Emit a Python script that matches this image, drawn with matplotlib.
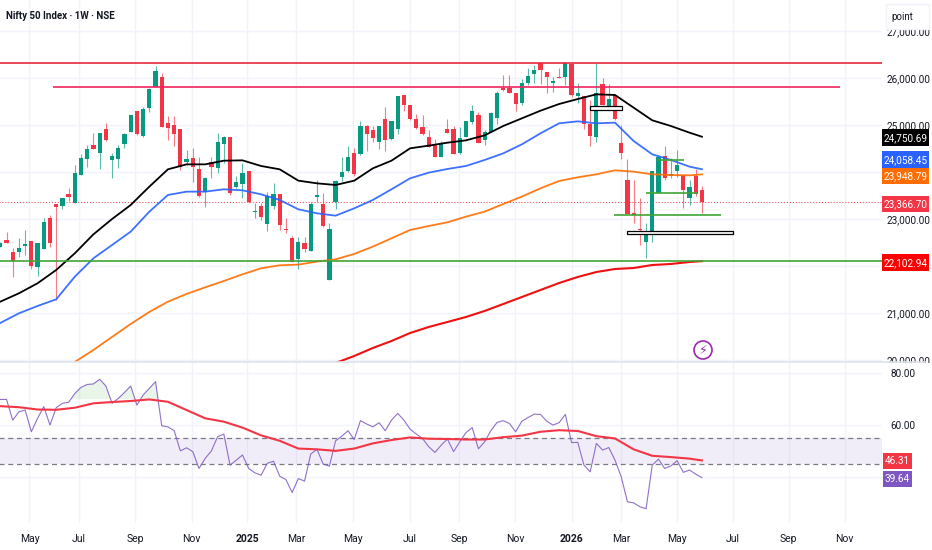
import numpy as np
import matplotlib
matplotlib.use('Agg')
import matplotlib.pyplot as plt
from matplotlib.patches import Rectangle, Circle

plt.rcParams['font.family'] = ['Roboto', 'DejaVu Sans']

# Weekly candles, one row per ten weeks
opens = [22412, 22554, 22305, 22298, 22433, 22539, 21986, 22362, 23022, 23312,
         23277, 23532, 23334, 23944, 24284, 24568, 24412, 24922, 24263, 24284,
         24589, 24858, 25298, 24773, 25369, 25816, 26029, 25050, 25000, 24922,
         24206, 24298, 24064, 23582, 24220, 24093, 24596, 24738, 23688, 23745,
         24029, 23149, 23270, 22894, 23284, 23525, 22795, 22589, 22142, 22497,
         22319, 23476, 23312, 21703, 23369, 23901, 24022, 24397, 24383, 24979,
         24894, 24639, 25121, 24695, 24908, 25639, 25426, 25128, 24951, 24752,
         24575, 24327, 24915, 24915, 24397, 24752, 25057, 25213, 24681, 24858,
         25142, 25795, 25795, 25674, 25461, 25901, 26085, 26312, 26135, 25887,
         26029, 26014, 26298, 25617, 25617, 25022, 24752, 25873, 25390, 25639,
         24624, 23830, 23121, 22788, 22504, 22731, 23546, 24348, 23908, 24029,
         23936, 23447, 23922, 23617]
highs = [22518, 22731, 22376, 22589, 22766, 22539, 22483, 23015, 23085, 23312,
         23440, 23653, 24149, 24383, 24575, 24837, 24823, 25036, 24397, 24575,
         24823, 25213, 25298, 25390, 25780, 26256, 26114, 25192, 25192, 24922,
         24468, 24504, 24312, 23901, 24327, 24823, 24766, 24738, 23915, 24185,
         24029, 23348, 23334, 23582, 23773, 23525, 23015, 22639, 22624, 22624,
         23369, 23830, 23546, 22908, 23830, 24327, 24561, 24504, 25085, 25000,
         24979, 24979, 25376, 25093, 25617, 25639, 25426, 25227, 25213, 24894,
         24695, 24667, 25121, 24979, 24951, 25093, 25419, 25270, 24894, 25284,
         25731, 26064, 26064, 25674, 25972, 26206, 26277, 26348, 26135, 26014,
         26206, 26348, 26312, 25887, 25617, 25532, 26312, 25993, 25873, 25639,
         25000, 24270, 23830, 23440, 22908, 24022, 24362, 24561, 24291, 24468,
         23936, 23830, 24064, 23703]
lows = [22398, 22483, 21759, 22185, 22234, 21929, 21795, 22362, 22412, 21277,
        23206, 23390, 23334, 23944, 24114, 24490, 24057, 24667, 23866, 24078,
        24518, 24858, 24788, 24752, 25270, 25816, 24951, 24681, 24561, 24043,
        24149, 23795, 23476, 23249, 23866, 23986, 24185, 23511, 23653, 23440,
        23348, 23015, 22979, 22752, 23206, 22766, 22695, 22093, 21937, 22305,
        22319, 23369, 22823, 21703, 23206, 23816, 24007, 23915, 24362, 24447,
        24646, 24490, 24447, 24681, 24802, 25298, 25107, 24908, 24788, 24525,
        24312, 24327, 24823, 24383, 24383, 24738, 25022, 24610, 24575, 24858,
        25022, 25731, 25674, 25305, 25426, 25851, 25887, 25866, 25674, 25710,
        26000, 25851, 25589, 25475, 24908, 24554, 24646, 25426, 25334, 25107,
        24284, 23107, 22908, 22447, 22178, 22518, 23546, 23830, 23866, 23887,
        23241, 23298, 23490, 23135]
closes = [22483, 22483, 22114, 22390, 22461, 22000, 22483, 22944, 22483, 23263,
          23440, 23468, 23972, 24298, 24483, 24490, 24823, 24674, 24341, 24511,
          24802, 25213, 24802, 25341, 25759, 26156, 24965, 24929, 24802, 24114,
          24277, 24114, 23490, 23880, 24100, 24646, 24752, 23546, 23795, 23972,
          23369, 23163, 23050, 23490, 23539, 22873, 22766, 22093, 22518, 22362,
          23319, 23511, 22851, 22788, 23809, 23993, 24312, 23951, 24979, 24802,
          24717, 24979, 24681, 25093, 25617, 25426, 25121, 24929, 24802, 24539,
          24327, 24589, 24823, 24383, 24717, 25093, 25298, 24610, 24858, 25263,
          25674, 25745, 25688, 25447, 25887, 26050, 26170, 26170, 26014, 25944,
          26000, 26312, 25639, 25674, 25022, 24766, 25674, 25426, 25546, 25128,
          24405, 23107, 23093, 22759, 22674, 24022, 24327, 23866, 23958, 24149,
          23617, 23688, 23525, 23366.70]

# Moving averages, read every third week
ma_weeks = list(range(0, 112, 3)) + [113]
ma_black = [21241, 21419, 21632, 21915, 22270, 22674, 23000, 23298, 23688, 24057,
            24163, 24163, 24241, 24248, 24128, 24057, 23816, 23759, 23724, 23816,
            24078, 24241, 24504, 24561, 24624, 24674, 24780, 24979, 25142, 25305,
            25447, 25553, 25653, 25639, 25369, 25100, 24979, 24837, 24750.69]
ma_blue = [20788, 20993, 21149, 21291, 21773, 22164, 22447, 22731, 23156, 23511,
           23582, 23582, 23632, 23610, 23525, 23405, 23206, 23121, 23071, 23227,
           23405, 23632, 23866, 23986, 24064, 24128, 24256, 24397, 24589, 24823,
           25036, 25078, 25036, 25050, 24660, 24376, 24256, 24114, 24058.45]
orange_weeks = list(range(12, 112, 3)) + [113]
ma_orange = [19958, 20213, 20490, 20766, 21022, 21241, 21405, 21546, 21681, 21823,
             21951, 22015, 22029, 22093, 22142, 22256, 22412, 22589, 22766, 22851,
             22929, 23050, 23156, 23319, 23476, 23653, 23809, 23887, 23951, 24036,
             24007, 23951, 23936, 23929, 23948.79]
red_weeks = list(range(54, 112, 3)) + [113]
ma_red = [19936, 20085, 20255, 20404, 20574, 20702, 20808, 20915, 21043, 21191,
          21340, 21489, 21638, 21766, 21872, 21936, 21957, 22021, 22043, 22085,
          22102.94]

# RSI and its average
rsi = [69.9, 69.9, 61.9, 65.1, 65.8, 57.4, 62.6, 67.1, 60.0, 66.7,
       68.4, 68.8, 72.2, 74.6, 75.7, 75.9, 77.7, 75.1, 68.4, 70.3,
       72.6, 75.1, 67.7, 71.6, 74.2, 76.8, 59.7, 59.3, 57.8, 50.0,
       51.2, 49.7, 43.2, 47.1, 50.0, 55.5, 56.5, 44.5, 46.4, 48.4,
       43.2, 41.5, 40.6, 45.2, 46.0, 40.2, 38.9, 33.9, 39.3, 38.3,
       48.8, 50.6, 44.9, 44.1, 53.9, 55.7, 57.8, 54.4, 61.7, 60.4,
       59.3, 60.9, 57.8, 61.9, 64.5, 61.9, 58.4, 56.5, 54.8, 51.6,
       49.4, 52.2, 54.6, 49.7, 53.5, 57.1, 59.0, 50.8, 53.5, 57.8,
       61.0, 61.7, 60.6, 57.4, 61.5, 62.9, 64.2, 64.1, 61.5, 60.0,
       60.9, 64.1, 53.2, 53.3, 44.5, 41.9, 52.9, 50.3, 51.3, 46.4,
       40.0, 30.3, 29.9, 28.4, 27.6, 44.5, 46.8, 43.2, 44.2, 46.2,
       41.7, 42.6, 41.0, 39.64]
rsi_ma = [67.3, 66.9, 66.0, 65.9, 66.7, 68.4, 68.9, 69.3, 69.9, 69.0,
          65.8, 62.6, 61.3, 59.0, 56.0, 53.9, 50.9, 50.6, 50.0, 50.9,
          52.9, 54.2, 55.2, 54.7, 54.6, 54.4, 54.4, 55.3, 55.9, 57.4,
          58.0, 57.7, 55.7, 54.8, 50.6, 48.1, 47.6, 47.0, 46.31]

# Drawn levels
top_line = 26326
second_line = 25802
support_line = 22103
last_price = 23366.70
green_segments = [(98.8, 116, 23091), (104, 112.3, 23547), (105.8, 110.1, 24255)]
white_boxes = [(101, 118, 22680, 22738), (95, 100.1, 25326, 25400)]

# Axis labels
month_pos = [4.7, 12.7, 21.7, 30.8, 39.8, 47.7, 56.8, 66, 73.9, 82.9, 92, 100, 109, 118, 127, 136]
month_labels = ['May', 'Jul', 'Sep', 'Nov', '2025', 'Mar', 'May', 'Jul', 'Sep', 'Nov', '2026',
                'Mar', 'May', 'Jul', 'Sep', 'Nov']
price_ticks = [20000, 21000, 22000, 23000, 24000, 25000, 26000, 27000]
# 22,000 and 24,000 sit behind the value badges
price_tick_labels = ['20,000.00', '21,000.00', '', '23,000.00', '', '25,000.00', '26,000.00', '27,000.00']
rsi_ticks = [40, 60, 80]
rsi_tick_labels = ['', '60.00', '80.00']

GREEN = '#089981'
RED = '#F23645'
PURPLE = '#7E57C2'
GRID = '#F0F3FA'
TEXT = '#131722'
AXIS_FS = 7.2

W, H = 932, 550
fig = plt.figure(figsize=(W / 100, H / 100), dpi=100)
ax = fig.add_axes([0, 1 - 362 / H, 882 / W, 362 / H])
ax_rsi = fig.add_axes([0, 1 - 523 / H, 882 / W, 160 / H])

weeks = np.arange(len(closes))
colors = [GREEN if c >= o else RED for o, c in zip(opens, closes)]
body_low = np.minimum(opens, closes)
body_size = np.maximum(np.abs(np.array(closes) - np.array(opens)), 25)

ax.vlines(weeks, lows, highs, colors=colors, lw=0.8, alpha=0.65, zorder=3)
ax.bar(weeks, body_size, bottom=body_low, width=0.68, color=colors, lw=0, zorder=3)

ax.plot(ma_weeks, ma_black, color='black', lw=1.3, zorder=4)
ax.plot(ma_weeks, ma_blue, color='#2962FF', lw=1.3, alpha=0.9, zorder=4)
ax.plot(orange_weeks, ma_orange, color='#FF6D00', lw=1.3, alpha=0.9, zorder=4)
ax.plot(red_weeks, ma_red, color='#F01010', lw=1.5, zorder=4)

ax.hlines(top_line, -1, 142, color='#E8283C', lw=1.2, zorder=5)
ax.hlines(second_line, 8.5, 135.2, color='#F0245E', lw=1.2, zorder=5)
ax.hlines(support_line, -1, 142, color='#3FA535', lw=1.2, zorder=5)
ax.hlines(last_price, -1, 142, color=RED, lw=0.7, linestyles=(0, (1, 2)), zorder=2)
for x0, x1, level in green_segments:
    ax.hlines(level, x0, x1, color='#3FA535', lw=1.2, zorder=5)
for x0, x1, low, high in white_boxes:
    ax.add_patch(Rectangle((x0, low), x1 - x0, high - low, fc='white', ec='black', lw=0.9, zorder=5))

ax.set_xlim(-0.05, 142)
ax.set_ylim(19957, 27660)
ax.set_xticks(month_pos)
ax.set_yticks(price_ticks)
ax.set_yticklabels(price_tick_labels)
ax.yaxis.tick_right()
ax.tick_params(axis='y', length=0, pad=3, labelsize=AXIS_FS, labelcolor=TEXT)
ax.tick_params(axis='x', length=0, labelbottom=False)
ax.grid(color=GRID, lw=1)
ax.set_axisbelow(True)
for s in ax.spines.values():
    s.set_visible(False)

# RSI pane
rsi_arr = np.array(rsi)
ax_rsi.axhspan(45, 55, color=PURPLE, alpha=0.1, lw=0)
ax_rsi.hlines([45, 55], -1, 142, color='#787B86', lw=0.9, linestyles=(0, (4, 3)))
ax_rsi.fill_between(weeks, rsi_arr, 70, where=rsi_arr > 70, interpolate=True, color='#4CAF50', alpha=0.12, lw=0)
ax_rsi.plot(weeks, rsi, color=PURPLE, lw=0.8, alpha=0.85, zorder=3)
ax_rsi.plot(ma_weeks, rsi_ma, color=RED, lw=1.5, zorder=4)
ax_rsi.set_xlim(-0.05, 142)
ax_rsi.set_ylim(22.1, 84)
ax_rsi.set_xticks(month_pos)
ax_rsi.set_xticklabels(month_labels)
ax_rsi.set_yticks(rsi_ticks)
ax_rsi.set_yticklabels(rsi_tick_labels)
ax_rsi.yaxis.tick_right()
ax_rsi.tick_params(axis='y', length=0, pad=6, labelsize=AXIS_FS, labelcolor=TEXT)
ax_rsi.tick_params(axis='x', length=0, pad=8, labelsize=7.5, labelcolor=TEXT)
for lab in ax_rsi.get_xticklabels():
    if lab.get_text() in ('2025', '2026'):
        lab.set_fontweight('bold')
ax_rsi.grid(color=GRID, lw=1)
ax_rsi.set_axisbelow(True)
for s in ax_rsi.spines.values():
    s.set_visible(False)

# Overlay in pixels for the title, badges and the small buttons
top = fig.add_axes([0, 0, 1, 1], facecolor='none')
top.set_xlim(0, W)
top.set_ylim(H, 0)
top.axis('off')

top.add_patch(Rectangle((882, 362.5), 50, 6, fc='white', ec='none'))
top.plot([0, 925], [362, 362], color='#E0E3EB', lw=1.2)
top.text(6, 16, 'Nifty 50 Index · 1W · NSE', fontsize=7, fontweight='bold', color=TEXT, va='center')

top.add_patch(Rectangle((886, 4), 43, 25, fc='white', ec='#F0F3FA', lw=1))
top.text(891, 17, 'point', fontsize=7, color=TEXT, va='center')


def badge(x0, x1, y0, y1, color, label):
    top.add_patch(Rectangle((x0, y0), x1 - x0, y1 - y0, fc=color, ec='none'))
    top.text((x0 + x1) / 2, (y0 + y1) / 2 + 0.3, label, color='white', fontsize=AXIS_FS, ha='center', va='center')


badge(882, 929, 129, 146, '#000000', f'{ma_black[-1]:,.2f}')
badge(882, 929, 151, 168, '#2962FF', f'{ma_blue[-1]:,.2f}')
badge(882, 929, 168, 184, '#FF6D00', f'{ma_orange[-1]:,.2f}')
badge(882, 929, 196, 212, RED, f'{last_price:,.2f}')
badge(882, 929, 254, 271, '#FF0000', f'{ma_red[-1]:,.2f}')
badge(883, 912, 453, 469, RED, f'{rsi_ma[-1]:.2f}')
badge(883, 912, 471, 487, PURPLE, f'{rsi[-1]:.2f}')

top.add_patch(Circle((703, 350), 9, fc='white', ec='#9C27B0', lw=1.2))
top.text(703, 350, '\u26a1', color='#9C27B0', fontsize=9, ha='center', va='center', family='DejaVu Sans')

fig.savefig('out.png', dpi=100)
